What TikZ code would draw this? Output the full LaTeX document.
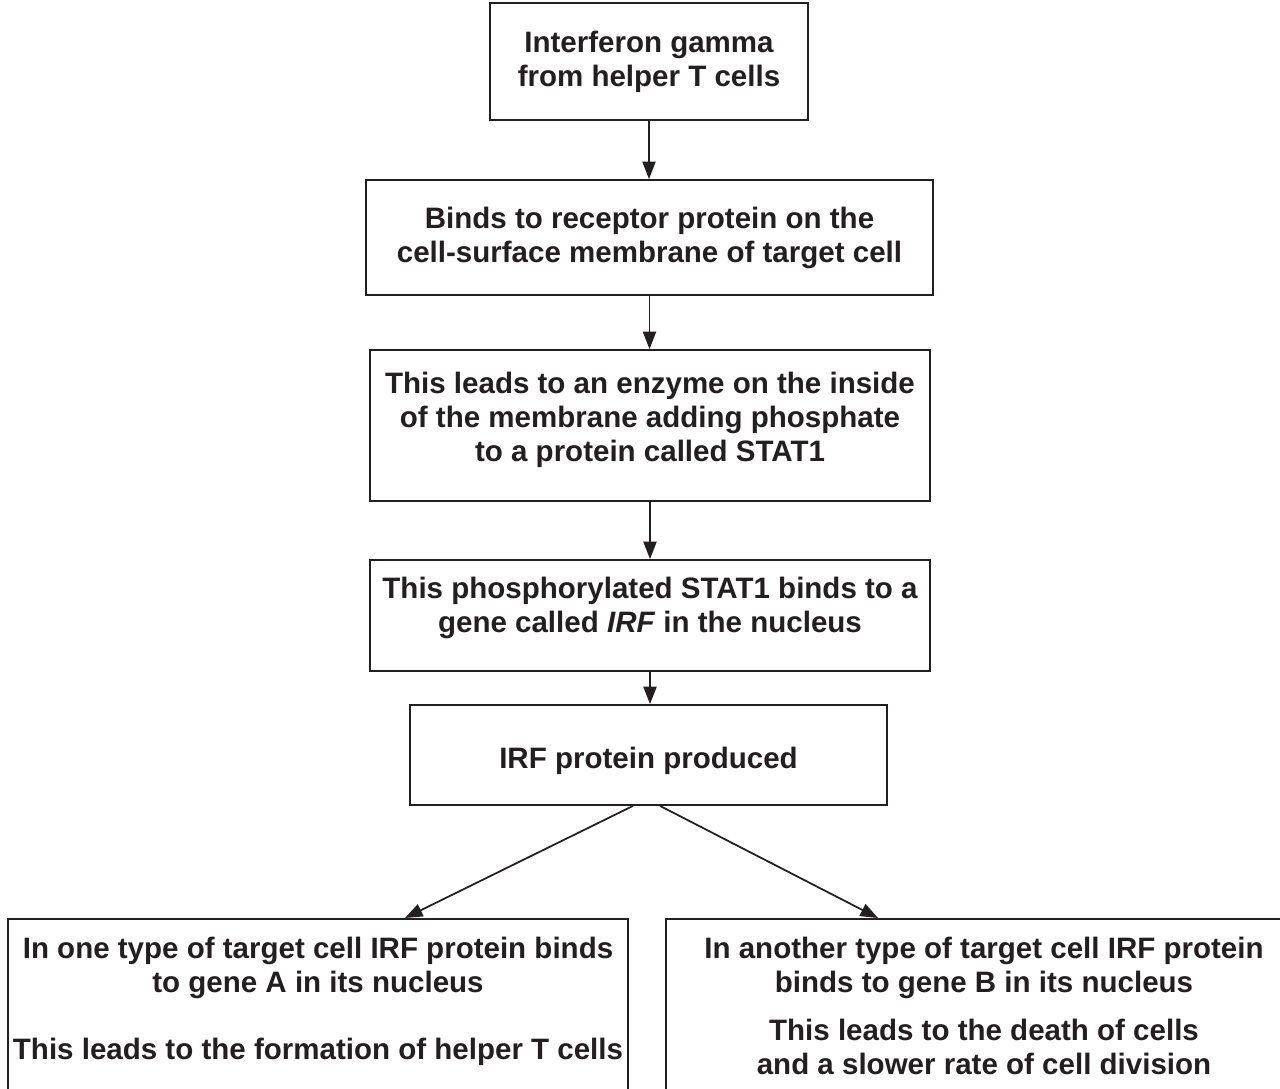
\documentclass[tikz,border=0pt]{standalone}
\usepackage{xcolor}
\usepackage{fontspec}
\setmainfont{Liberation Sans}
\usepackage{tikz}
\usetikzlibrary{arrows.meta}
\usetikzlibrary{positioning}
\definecolor{inkgray}{HTML}{231F20}
\tikzset{
flow box/.style = { rectangle, draw = inkgray, fill = white, line width = 1pt, align = center, inner sep = 0pt },
open box/.style = { rectangle, draw = inkgray, fill = none, line width = 1pt, anchor = north },
flow text/.style = { inkgray, align = center, anchor = north, inner sep = 0pt },
flow arrow/.style = { draw = inkgray, line width = 1pt, -{Triangle[length = 10pt, width = 7.5pt]} },
}

\begin{document}
\begin{tikzpicture}[x = 0.02cm, y = -0.02cm, font = \fontsize{16.8}{19.3}\selectfont\bfseries, text = inkgray]
    \path[use as bounding box, clip] (0, 0) rectangle (1280, 1088);
      % chain of steps
      \node[flow box, minimum width = 6.36cm, minimum height = 2.34cm] (gamma) at (649, 61.5) {Interferon gamma\\from helper T cells};
      \node[flow box, minimum width = 11.34cm, minimum height = 2.30cm] (receptor) at (649.5, 237.5) {Binds to receptor protein on the\\cell-surface membrane of target cell};
      \node[flow box, minimum width = 11.2cm, minimum height = 3.02cm] (stat) at (650, 425.5) {};
      \node[flow text] (stat text) at (650, 372) {This leads to an enzyme on the inside\\of the membrane adding phosphate\\to a protein called STAT1};
      \node[flow box, minimum width = 11.2cm, minimum height = 2.22cm] (irfgene) at (650, 615.5) {};
      \node[flow text] (irfgene text) at (650, 577) {This phosphorylated STAT1 binds to a\\gene called \textit{IRF} in the nucleus};
      \node[flow box, minimum width = 9.54cm, minimum height = 2.0cm] (irfprot) at (648.5, 755) {};
      \node[flow text] (irfprot text) at (648.5, 747) {IRF protein produced};
      % the two outcomes (cut off at the foot of the page)
      \node[open box, minimum width = 12.4cm, minimum height = 4cm] (geneA) at (318, 918) {};
      \node[open box, minimum width = 12.72cm, minimum height = 4cm] (geneB) at (984, 918) {};
      \node[flow text] (geneA text) at (318, 937) {In one type of target cell IRF protein binds\\to gene A in its nucleus\\[19pt]This leads to the formation of helper T cells};
      \node[flow text] (geneB text) at (984, 937) {In another type of target cell IRF protein\\binds to gene B in its nucleus\\[8pt]This leads to the death of cells\\and a slower rate of cell division};
      \coordinate (geneA in) at ([xshift = 1.74cm]geneA.north);
      \coordinate (geneB in) at ([xshift = -2.12cm]geneB.north);
      % arrows
      \draw[flow arrow] (gamma) -- (gamma |- receptor.north);
      \draw[flow arrow] (receptor) -- (receptor |- stat.north);
      \draw[flow arrow] (stat) -- (irfgene);
      \draw[flow arrow] (irfgene) -- (irfgene |- irfprot.north);
      \draw[flow arrow] ([xshift = -0.31cm]irfprot.south) -- (geneA in);
      \draw[flow arrow] ([xshift = 0.23cm]irfprot.south) -- (geneB in);
\end{tikzpicture}
\end{document}
